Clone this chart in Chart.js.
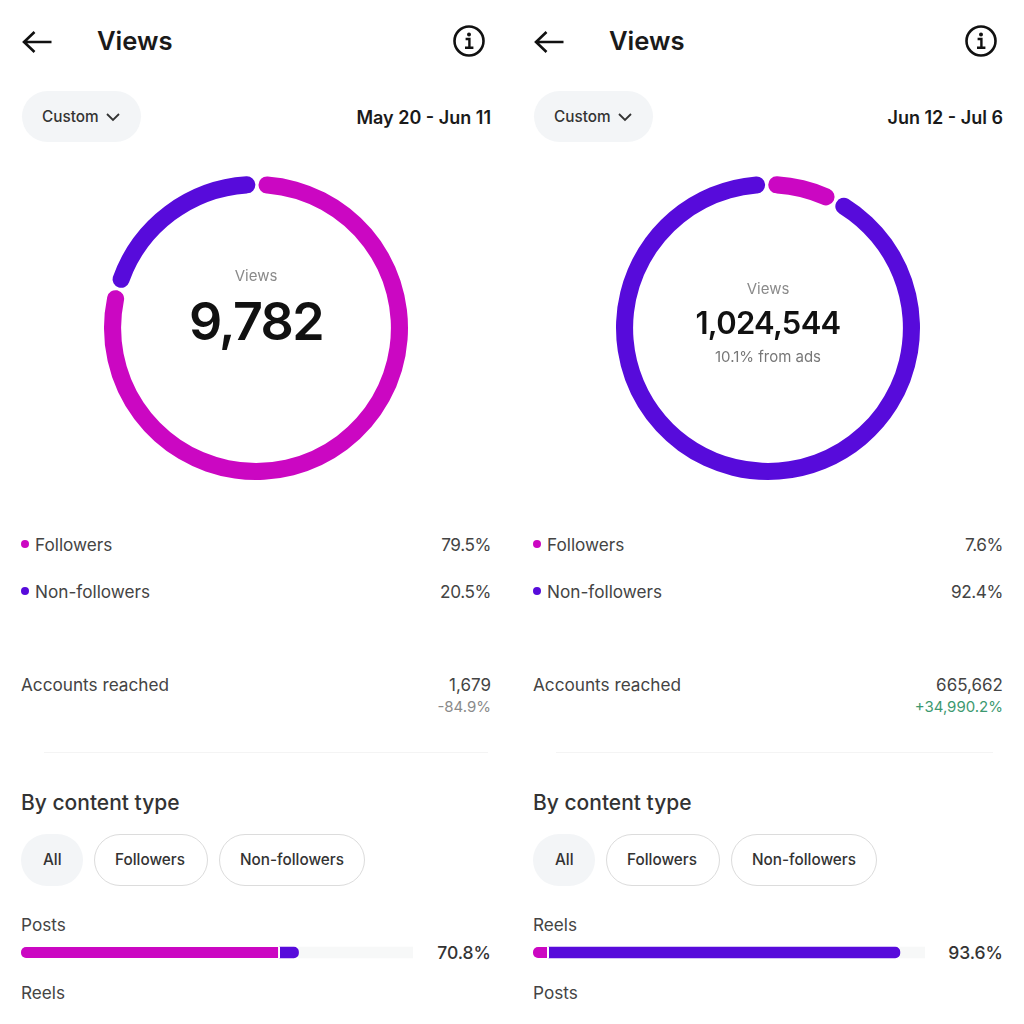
<!DOCTYPE html>
<html>
<head>
<meta charset="utf-8">
<script src="https://cdn.jsdelivr.net/npm/chart.js@4"></script>
<style>
html, body { margin: 0; padding: 0; background: #fff; }
body { width: 1024px; height: 1024px; overflow: hidden; position: relative; font-family: Inter, "Noto Sans", sans-serif; color: #111; }
.t { position: absolute; line-height: 1; white-space: nowrap; transform: translateY(-50%); }
.pill { position: absolute; border-radius: 26px; box-sizing: border-box; }
canvas { position: absolute; }
svg { position: absolute; overflow: visible; }
</style>
</head>
<body>
<script>
var MAGENTA = '#cb07c2';
var PURPLE = '#570bdb';
var TRACK = '#f7f8f8';

var audience = ['Followers', 'Non-followers'];
var dateRanges = ['May 20 - Jun 11', 'Jun 12 - Jul 6'];
var totals = ['9,782', '1,024,544'];
var sharesLeft = [79.5, 20.5];
var sharesRight = [7.6, 92.4];
var reached = ['1,679', '665,662'];
var reachedChange = ['-84.9%', '+34,990.2%'];
var filters = ['All', 'Followers', 'Non-followers'];
var topType = ['Posts', 'Reels'];
var nextType = ['Reels', 'Posts'];
var topTotal = ['70.8%', '93.6%'];
var followersPart = [66, 4];
var nonFollowersPart = [4.8, 89.6];
var restPart = [29.2, 6.4];

function txt(x, y, str, css) {
    var d = document.createElement('div');
    d.className = 't';
    d.textContent = str;
    d.style.cssText = css;
    if (x < 0) d.style.right = (-x) + 'px'; else d.style.left = x + 'px';
    d.style.top = y + 'px';
    document.body.appendChild(d);
    return d;
}

function pill(x, y, w, h, css) {
    var d = document.createElement('div');
    d.className = 'pill';
    d.style.cssText = 'left:' + x + 'px;top:' + y + 'px;width:' + w + 'px;height:' + h + 'px;' + css;
    document.body.appendChild(d);
}

function icon(x, y, w, h, inner) {
    var s = document.createElementNS('http://www.w3.org/2000/svg', 'svg');
    s.setAttribute('width', w);
    s.setAttribute('height', h);
    s.style.left = x + 'px';
    s.style.top = y + 'px';
    s.innerHTML = inner;
    document.body.appendChild(s);
}

function canvas(x, y, w, h) {
    var c = document.createElement('canvas');
    c.width = w;
    c.height = h;
    c.style.left = x + 'px';
    c.style.top = y + 'px';
    c.style.width = w + 'px';
    c.style.height = h + 'px';
    document.body.appendChild(c);
    return c;
}

function ring(ox, values) {
    new Chart(canvas(ox + 96, 168, 320, 320), {
        type: 'doughnut',
        data: {
            labels: audience,
            datasets: [{
                data: values,
                backgroundColor: [MAGENTA, PURPLE],
                borderWidth: 0,
                borderRadius: 8.5,
                spacing: 2
            }]
        },
        options: {
            responsive: false,
            animation: false,
            radius: 151,
            cutout: 141,
            plugins: { legend: { display: false }, tooltip: { enabled: false } }
        }
    });
}

function typeBar(ox, i) {
    new Chart(canvas(ox + 21, 945, 392, 15), {
        type: 'bar',
        data: {
            labels: [topType[i]],
            datasets: [
                { label: audience[0], data: [followersPart[i]], backgroundColor: MAGENTA, borderColor: '#fff',
                  borderWidth: { right: 2 }, borderSkipped: false, borderRadius: { topLeft: 5, bottomLeft: 5 } },
                { label: audience[1], data: [nonFollowersPart[i]], backgroundColor: PURPLE,
                  borderWidth: 0, borderRadius: { topRight: 5, bottomRight: 5 } },
                { label: 'rest', data: [restPart[i]], backgroundColor: TRACK, borderWidth: 0 }
            ]
        },
        options: {
            indexAxis: 'y',
            responsive: false,
            animation: false,
            datasets: { bar: { barThickness: 11 } },
            scales: {
                x: { display: false, stacked: true, min: 0, max: 100 },
                y: { display: false, stacked: true }
            },
            plugins: { legend: { display: false }, tooltip: { enabled: false } }
        }
    });
}

function panel(i) {
    var ox = i * 512;
    var rx = -(533 - ox);
    var grey = 'color:#444;font-size:17.2px;';
    var num = 'color:#444;font-size:17.2px;letter-spacing:-0.4px;';
    var chip = 'font-size:15.3px;font-weight:500;color:#333;';
    var centred = 'width:512px;text-align:center;';

    // header
    icon(ox + 22, 30, 30, 24, '<path d="M29.5 12H2M12.5 2L2 12L12.5 22" fill="none" stroke="#111" stroke-width="2.6"/>');
    txt(ox + 97, 41, 'Views', 'font-size:25.6px;font-weight:600;color:#1a1a1a;');
    icon(ox + 453, 25, 32, 32,
        '<circle cx="16" cy="16" r="14.5" fill="none" stroke="#111" stroke-width="2.6"/>' +
        '<circle cx="16" cy="9.6" r="2" fill="#111"/>' +
        '<path d="M12.6 14H16.4V22.4M12 22.8H20.4" fill="none" stroke="#111" stroke-width="2.4"/>');

    // range row
    pill(ox + 22, 91, 119, 51, 'background:#f3f5f7;');
    txt(ox + 42, 117, 'Custom', chip);
    icon(ox + 106, 113, 14, 9, '<path d="M1 1L7 7L13 1" fill="none" stroke="#333" stroke-width="1.8"/>');
    txt(rx, 118, dateRanges[i], 'font-size:18px;font-weight:600;color:#1a1a1a;');

    // ring and its centre
    ring(ox, i ? sharesRight : sharesLeft);
    if (i === 0) {
        txt(ox, 275, 'Views', 'font-size:15px;color:#8a8a8a;' + centred);
        txt(ox, 322, totals[0], 'font-size:52px;font-weight:600;color:#111;letter-spacing:-1.6px;' + centred);
    } else {
        txt(ox, 288, 'Views', 'font-size:15px;color:#8a8a8a;' + centred);
        txt(ox, 322, totals[1], 'font-size:31px;font-weight:600;color:#111;letter-spacing:-0.7px;' + centred);
        txt(ox, 356, '10.1% from ads', 'font-size:15px;color:#777;' + centred);
    }

    // legend rows
    var shares = i ? sharesRight : sharesLeft;
    icon(ox + 21, 540, 8, 8, '<circle cx="4" cy="4" r="4" fill="' + MAGENTA + '"/>');
    txt(ox + 35, 545, audience[0], grey);
    txt(rx, 545, shares[0] + '%', num);
    icon(ox + 21, 587, 8, 8, '<circle cx="4" cy="4" r="4" fill="' + PURPLE + '"/>');
    txt(ox + 35, 592, audience[1], grey);
    txt(rx, 592, shares[1] + '%', num);

    // accounts reached
    txt(ox + 21, 685, 'Accounts reached', grey);
    txt(rx, 685, reached[i], 'color:#444;font-size:17px;');
    txt(rx, 706, reachedChange[i], 'font-size:15px;color:' + (i ? '#3d9970' : '#8a8a8a') + ';');
    pill(ox + 44, 752, i ? 437 : 444, 1, 'background:#f4f4f4;border-radius:0;');

    // by content type
    txt(ox + 21, 802, 'By content type', 'font-size:21px;font-weight:500;color:#333;');
    pill(ox + 21, 834, 62, 52, 'background:#f3f5f7;');
    txt(ox + 43, 860, filters[0], chip);
    pill(ox + 94, 834, 114, 52, 'border:1px solid #dcdcdc;background:#fff;');
    txt(ox + 115, 860, filters[1], chip);
    pill(ox + 219, 834, 146, 52, 'border:1px solid #dcdcdc;background:#fff;');
    txt(ox + 240, 860, filters[2], chip);

    txt(ox + 21, 925, topType[i], grey);
    typeBar(ox, i);
    txt(rx, 953, topTotal[i], 'font-size:17.5px;font-weight:500;color:#333;');
    txt(ox + 21, 993, nextType[i], grey);
}

panel(0);
panel(1);
</script>
</body>
</html>
